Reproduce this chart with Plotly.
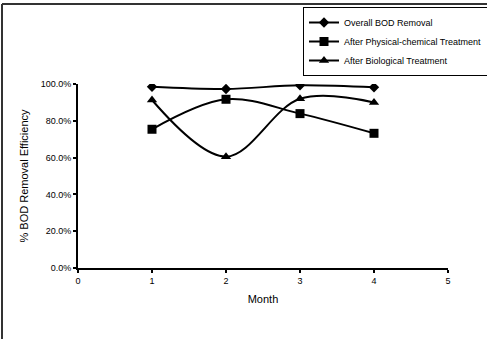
import plotly.graph_objects as go

months = [1, 2, 3, 4]
overall = [0.985, 0.973, 0.993, 0.982]
physchem = [0.754, 0.917, 0.839, 0.732]
biological = [0.913, 0.605, 0.920, 0.900]
series_names = ["Overall BOD Removal", "After Physical-chemical Treatment", "After Biological Treatment"]
y_ticks = [0, 0.2, 0.4, 0.6, 0.8, 1.0]
x_ticks = [0, 1, 2, 3, 4, 5]

W, H = 487, 339
L, R, T, B = 78, 39, 84, 71
pw, ph = W - L - R, H - T - B

def px(x):
    return (x - L) / pw

def py(y):
    return (H - B - y) / ph

fig = go.Figure()
symbols = ["diamond", "square", "triangle-up"]
sizes = [8, 9, 9]
for name, vals, sym, sz in zip(series_names, [overall, physchem, biological], symbols, sizes):
    fig.add_trace(go.Scatter(
        x=months, y=vals, name=name, mode="lines+markers",
        line=dict(color="black", width=2, shape="spline", smoothing=1.0),
        marker=dict(symbol=sym, size=sz, color="black"),
    ))

fig.update_layout(
    width=W, height=H,
    margin=dict(l=L, r=R, t=T, b=B, autoexpand=False),
    paper_bgcolor="white", plot_bgcolor="white",
    font=dict(family="Liberation Sans, Arial, sans-serif", color="black", size=9),
    showlegend=True,
    legend=dict(
        x=px(303), y=py(7), xanchor="left", yanchor="top",
        bordercolor="black", borderwidth=1, bgcolor="white",
        font=dict(size=9), tracegroupgap=0, itemwidth=30,
    ),
    xaxis=dict(
        range=[0, 5], tickvals=x_ticks, showgrid=False, zeroline=False,
        showline=True, linecolor="black", linewidth=2,
        ticks="outside", ticklen=3, tickwidth=1.5, tickcolor="black",
        title=dict(text="Month", font=dict(size=11), standoff=11),
        tickfont=dict(size=9),
    ),
    yaxis=dict(
        range=[0, 1], tickvals=y_ticks, tickformat=".1%", showgrid=False, zeroline=False,
        showline=True, linecolor="black", linewidth=2,
        ticks="outside", ticklen=3, tickwidth=1.5, tickcolor="black",
        title=dict(text="% BOD Removal Efficiency", font=dict(size=11), standoff=10),
        tickfont=dict(size=9),
    ),
    shapes=[
        dict(type="line", xref="paper", yref="paper", x0=px(2), x1=px(487), y0=py(4), y1=py(4),
             line=dict(color="#333333", width=2)),
        dict(type="line", xref="paper", yref="paper", x0=px(2), x1=px(2), y0=py(4), y1=py(339),
             line=dict(color="#333333", width=2)),
    ],
)

fig.write_html("out.html")
